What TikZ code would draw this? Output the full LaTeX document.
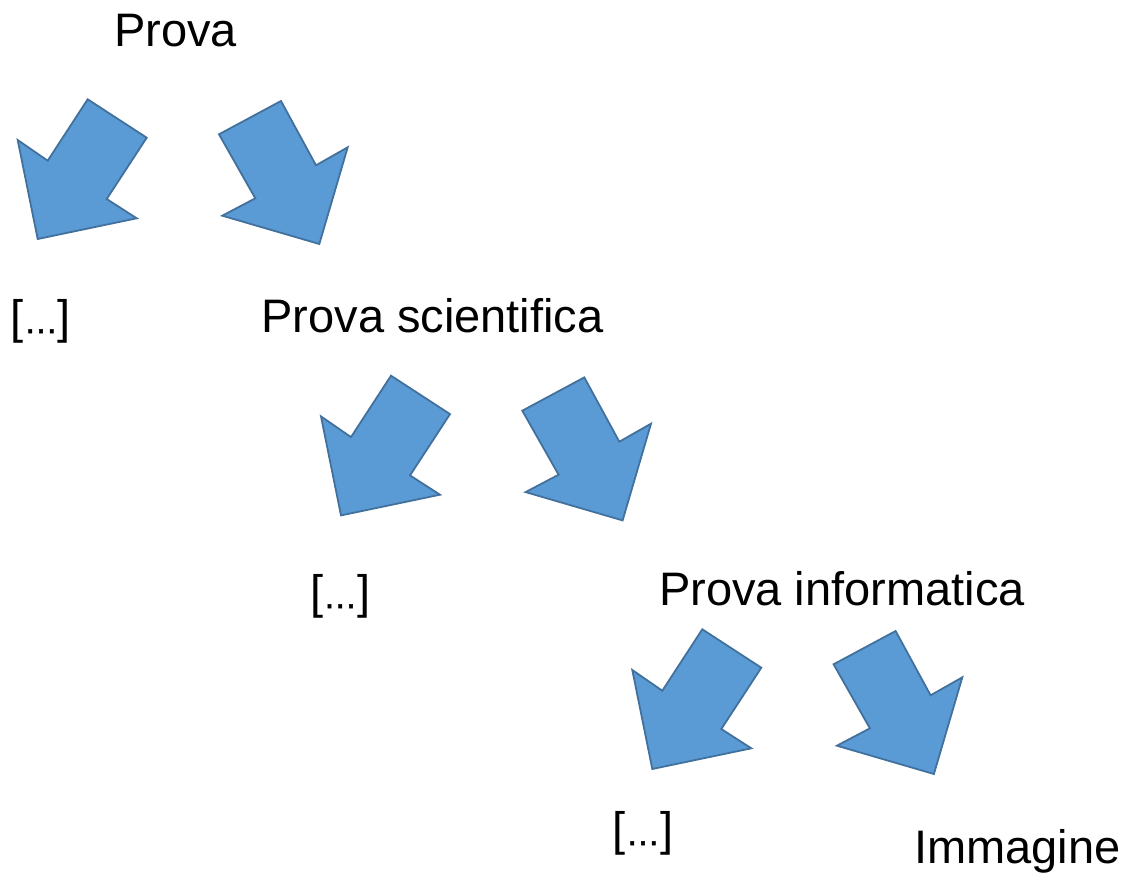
\documentclass[tikz,border=0pt]{standalone}
\usepackage{fontspec}
\setmainfont{Liberation Sans}
\newfontfamily\dotsfont{Liberation Sans}[FakeBold=1.5]
\definecolor{arrowfill}{HTML}{5B9BD5}
\definecolor{arrowline}{HTML}{41719C}
\newcommand{\elide}{[{\dotsfont\fontsize{34}{34}\selectfont…}]}
\tikzset{
  lbl/.style={inner sep=0pt, outer sep=0pt, anchor=base, font=\fontsize{47}{56}\selectfont, text=black},
  blockarrow/.style={fill=arrowfill, draw=arrowline, line width=1.8pt, line join=miter},
  pics/arrowpair/.style={code={
    \draw[blockarrow] (87.7,99.3) -- (146.7,137.7) -- (106.7,199) -- (136.7,218.3) -- (37.7,239) -- (17.7,140) -- (47.7,160.7) -- cycle;
    \draw[blockarrow] (219,134.3) -- (281,101) -- (316,165.3) -- (347.7,147.3) -- (319.3,244) -- (222.3,215.7) -- (255.3,198.3) -- cycle;
  }}
}
\begin{document}
\begin{tikzpicture}[x=1pt, y=-1pt]
\useasboundingbox (0,0) rectangle (1130,873);
\fill[white] (0,0) rectangle (1130,873);

\pic at (0,0) {arrowpair};
\pic at (303.3,276.4) {arrowpair};
\pic at (614.6,530) {arrowpair};

\node[lbl] (prova) at (175.7,46.7) {Prova};
\node[lbl] (dots1) at (41,333) {\elide};
\node[lbl] (scient) at (432.5,332) {Prova scientifica};
\node[lbl] (dots2) at (340.3,608) {\elide};
\node[lbl] (inform) at (842,605) {Prova informatica};
\node[lbl] (dots3) at (643,845) {\elide};
\node[lbl] (immag) at (1017.5,863) {Immagine};
\end{tikzpicture}
\end{document}
